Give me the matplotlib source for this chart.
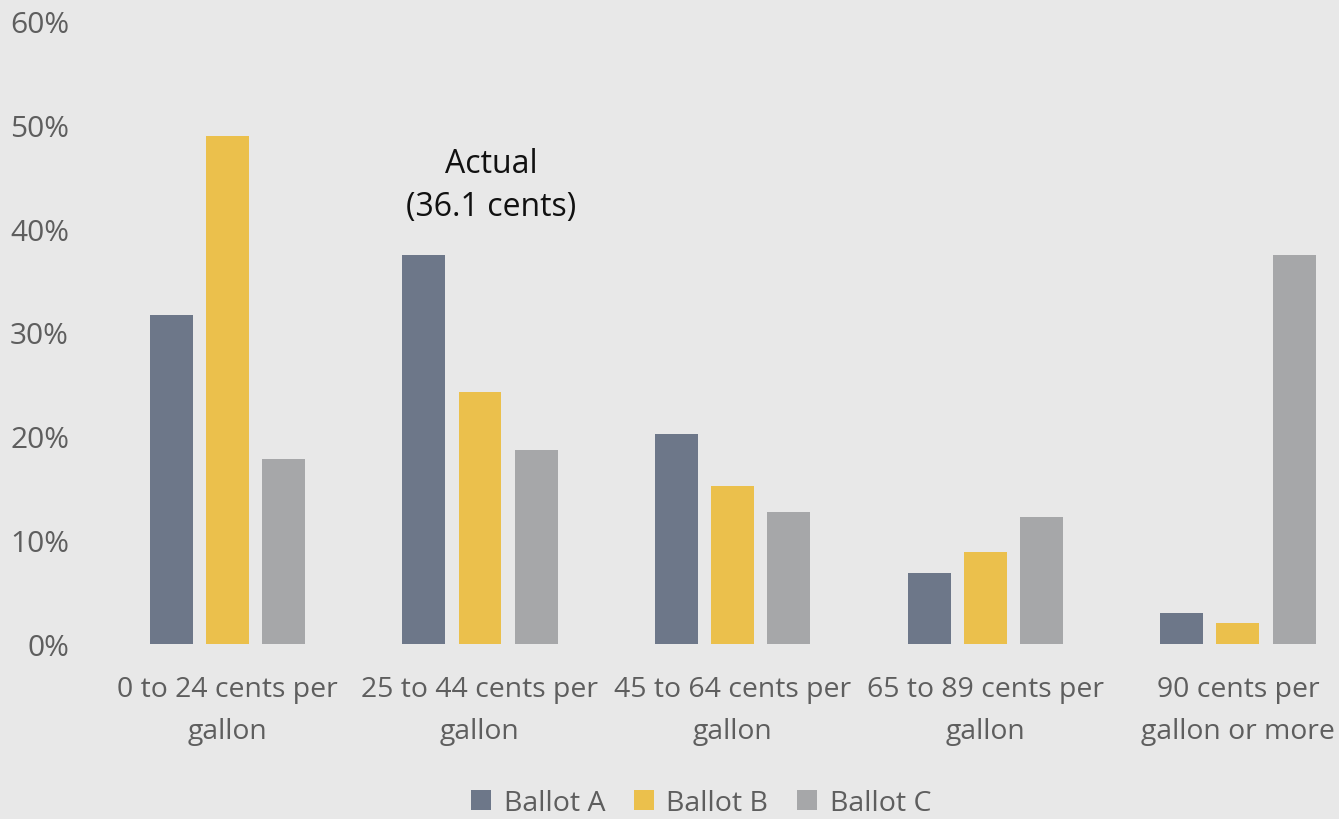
import matplotlib
matplotlib.use("Agg")
import matplotlib.pyplot as plt
import numpy as np

categories = ["0 to 24 cents per\ngallon", "25 to 44 cents per\ngallon",
              "45 to 64 cents per\ngallon", "65 to 89 cents per\ngallon",
              "90 cents per\ngallon or more"]
ballot_a = [31.7, 37.5, 20.2, 6.8, 3.0]
ballot_b = [48.9, 24.3, 15.2, 8.9, 2.0]
ballot_c = [17.8, 18.7, 12.7, 12.2, 37.5]
series_names = ["Ballot A", "Ballot B", "Ballot C"]
colors = ["#6d7789", "#ebc04c", "#a6a7a9"]

plt.rcParams["font.family"] = ["Open Sans", "DejaVu Sans"]
bg = "#e8e8e8"

fig = plt.figure(figsize=(13.39, 8.2), dpi=100, facecolor=bg)
ax = fig.add_axes([101/1339, 1-645/820, 1-101/1339, (645-22)/820])
ax.set_facecolor(bg)

x = np.arange(len(categories))
step = 0.222
width = 0.17
for i, (vals, name, c) in enumerate(zip([ballot_a, ballot_b, ballot_c], series_names, colors)):
    ax.bar(x + (i-1)*step, vals, width, color=c, label=name)

ax.set_xlim(-0.5, 4.4)
ax.set_ylim(0, 60)
ax.set_yticks(range(0, 61, 10))
ax.set_yticklabels([f"{v}%" for v in range(0, 61, 10)])
ax.set_xticks(x)
ax.set_xticklabels(categories, linespacing=1.7)
ax.tick_params(axis="both", length=0, colors="#5e5e5e")
ax.tick_params(axis="y", pad=23, labelsize=21.5)
ax.tick_params(axis="x", pad=22, labelsize=20.4)
for s in ax.spines.values():
    s.set_visible(False)

ax.text(1.045, 44.2, "Actual\n(36.1 cents)", ha="center", va="center",
        fontsize=23, color="#111111", linespacing=1.4)

fig.legend(loc="center", bbox_to_anchor=(701/1339, 1-804/820), ncol=3,
           frameon=False, fontsize=20.5, handlelength=0.7, handleheight=0.7,
           handletextpad=0.45, columnspacing=1.0, labelcolor="#5e5e5e")

fig.savefig("out.png", dpi=100, facecolor=bg)
